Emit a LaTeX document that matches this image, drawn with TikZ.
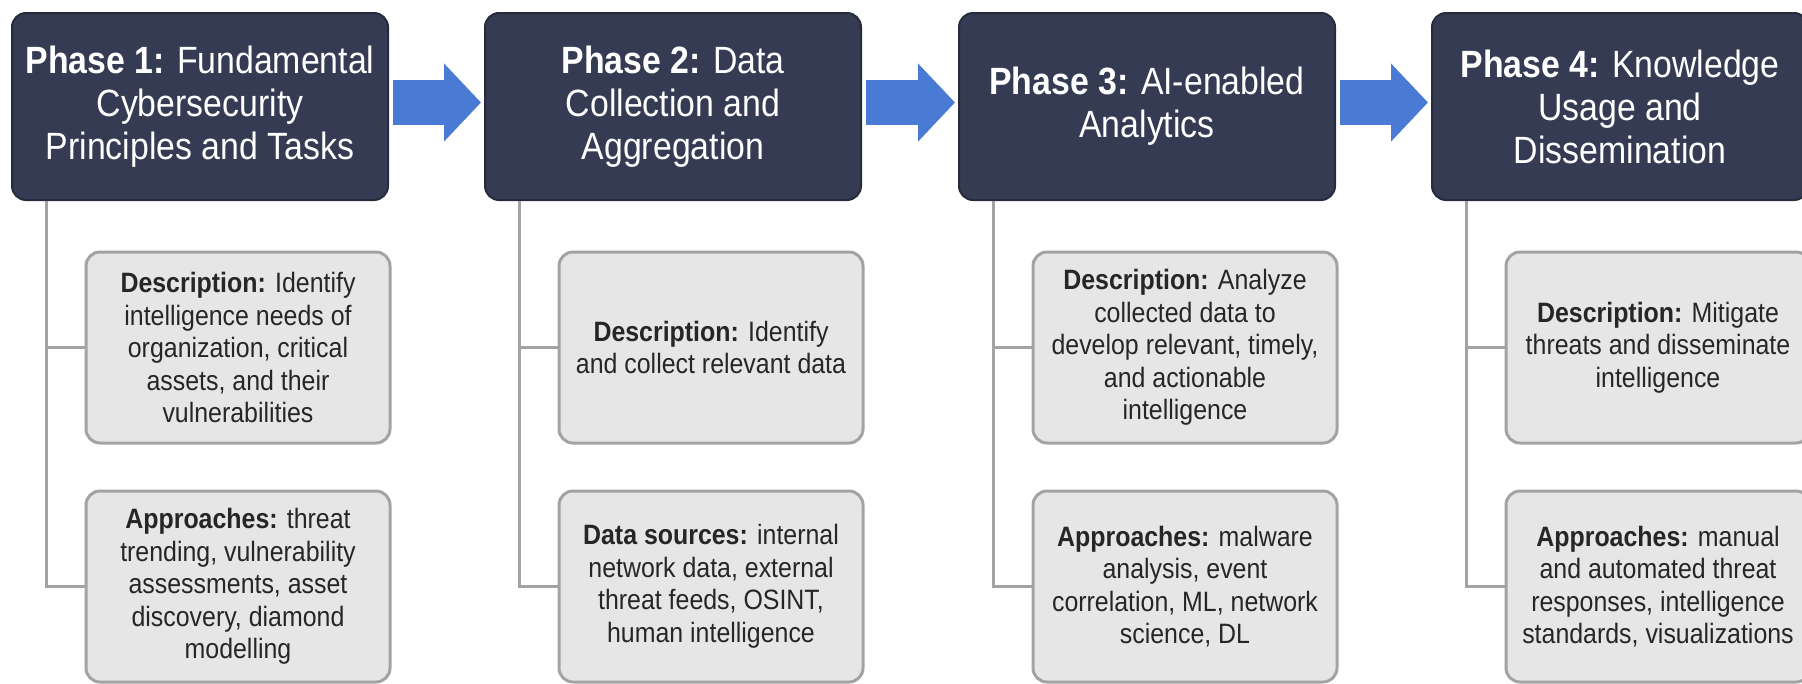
\documentclass[tikz,border=0pt]{standalone}
\usepackage{fontspec}
\setmainfont{Liberation Sans}[FakeStretch=0.89]
\usetikzlibrary{arrows.meta}
\definecolor{phasenavy}{HTML}{343B52}
\definecolor{boxgray}{HTML}{E6E6E6}
\definecolor{edgegray}{HTML}{A3A3A3}
\definecolor{flowblue}{HTML}{4A7BD4}
\newcommand{\kw}[1]{\textbf{#1}}

\begin{document}
\begin{tikzpicture}[x=1pt, y=1pt,
	phase/.style={draw=phasenavy!75!black, line width=2pt, fill=phasenavy, rounded corners=14pt,
		minimum width=376pt, minimum height=187pt, inner sep=0pt,
		text=white, align=center, font=\fontsize{38}{43}\selectfont},
	infobox/.style={draw=edgegray, line width=3pt, fill=boxgray, rounded corners=14pt,
		minimum width=304pt, minimum height=191pt, inner sep=0pt,
		text=black!85, align=center, font=\fontsize{28}{32.5}\selectfont},
	treeline/.style={draw=edgegray, line width=3pt},
	flowarrow/.style={draw=flowblue, line width=45pt, -{Triangle[width=76pt,length=37pt]},
		shorten <=4pt, shorten >=3pt}
]

\useasboundingbox (0,0) rectangle (1802,-683);
\clip (0,0) rectangle (1802,-683);
\fill[white] (0,0) rectangle (1802,-683);

\node[phase] (h1) at (200,-106.5) {\kw{Phase 1:} Fundamental\\Cybersecurity\\Principles and Tasks};
\node[phase] (h2) at (673,-106.5) {\kw{Phase 2:} Data\\Collection and\\Aggregation};
\node[phase] (h3) at (1147,-106.5) {\kw{Phase 3:} AI-enabled\\Analytics};
\node[phase] (h4) at (1620,-106.5) {\kw{Phase 4:} Knowledge\\Usage and\\Dissemination};

\node[infobox] (d1) at (238,-347.5) {\kw{Description:} Identify\\intelligence needs of\\organization, critical\\assets, and their\\vulnerabilities};
\node[infobox] (a1) at (238,-586.5) {\kw{Approaches:} threat\\trending, vulnerability\\assessments, asset\\discovery, diamond\\modelling};

\node[infobox] (d2) at (711,-347.5) {\kw{Description:} Identify\\and collect relevant data};
\node[infobox] (a2) at (711,-586.5) {\kw{Data sources:} internal\\network data, external\\threat feeds, OSINT,\\human intelligence};

\node[infobox] (d3) at (1185,-347.5) {\kw{Description:} Analyze\\collected data to\\develop relevant, timely,\\and actionable\\intelligence};
\node[infobox] (a3) at (1185,-586.5) {\kw{Approaches:} malware\\analysis, event\\correlation, ML, network\\science, DL};

\node[infobox] (d4) at (1658,-347.5) {\kw{Description:} Mitigate\\threats and disseminate\\intelligence};
\node[infobox] (a4) at (1658,-586.5) {\kw{Approaches:} manual\\and automated threat\\responses, intelligence\\standards, visualizations};

\foreach \i in {1,...,4} {
	\draw[treeline] ([xshift=35pt]h\i.south west) |- (d\i.west);
	\draw[treeline] ([xshift=35pt]h\i.south west) |- (a\i.west);
}

\foreach \i/\j in {1/2,2/3,3/4}
	\draw[flowarrow] ([yshift=4pt]h\i.east) -- ([yshift=4pt]h\j.west);

\end{tikzpicture}
\end{document}
